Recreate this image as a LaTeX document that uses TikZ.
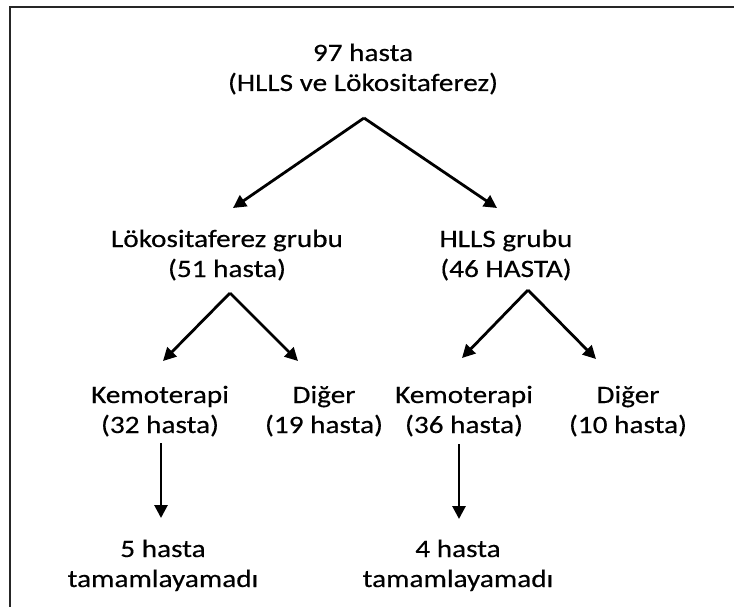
\documentclass[tikz,border=0pt]{standalone}
\usepackage{fontspec}
\setmainfont{Carlito}[FakeStretch=1.17,FakeBold=0.4]
\usetikzlibrary{arrows.meta}
\begin{document}
\begin{tikzpicture}[x=1pt,y=-1pt,
  lbl/.style={inner sep=0pt,align=center,font=\fontsize{25}{30}\selectfont},
  arr/.style={line width=2.8pt,-{Triangle[length=13pt,width=13pt]}},
  frame/.style={line width=2pt,draw=black!85}]
\useasboundingbox (0,0) rectangle (734,607);
\draw[frame] (10,607) -- (10,7) -- (734,7);
% nodes (center = first baseline + 9)
\node[lbl] (top) at (363,70) {\strut 97 hasta\\\strut (HLLS ve Lökositaferez)};
\node[lbl] (lok) at (227,256) {\strut Lökositaferez grubu\\\strut (51 hasta)};
\node[lbl] (hlls) at (506,256) {\strut HLLS grubu\\\strut (46 HASTA)};
\node[lbl] (k1) at (160,412) {\strut Kemoterapi\\\strut (32 hasta)};
\node[lbl] (d1) at (324,412) {\strut Diğer\\\strut (19 hasta)};
\node[lbl] (k2) at (464,412) {\strut Kemoterapi\\\strut (36 hasta)};
\node[lbl] (d2) at (628,412) {\strut Diğer\\\strut (10 hasta)};
\node[lbl] (t1) at (163,566) {\strut 5 hasta\\\strut tamamlayamadı};
\node[lbl] (t2) at (458,566) {\strut 4 hasta\\\strut tamamlayamadı};
% connector end points
\coordinate (topA) at (364,118);
\coordinate (lokIn) at (233,208);
\coordinate (hllsIn) at (497,208);
\coordinate (lokA) at (230,293);
\coordinate (k1In) at (163,361);
\coordinate (d1In) at (298,361);
\coordinate (hllsA) at (528,290);
\coordinate (k2In) at (462,358);
\coordinate (d2In) at (596,359);
\coordinate (k1A) at (161,443);
\coordinate (t1In) at (161,518);
\coordinate (k2A) at (459,444);
\coordinate (t2In) at (459,519);
\draw[arr] (topA) -- (lokIn);
\draw[arr] (topA) -- (hllsIn);
\draw[arr] (lokA) -- (k1In);
\draw[arr] (lokA) -- (d1In);
\draw[arr] (hllsA) -- (k2In);
\draw[arr] (hllsA) -- (d2In);
\draw[arr] (k1A) -- (t1In);
\draw[arr] (k2A) -- (t2In);
\end{tikzpicture}
\end{document}
